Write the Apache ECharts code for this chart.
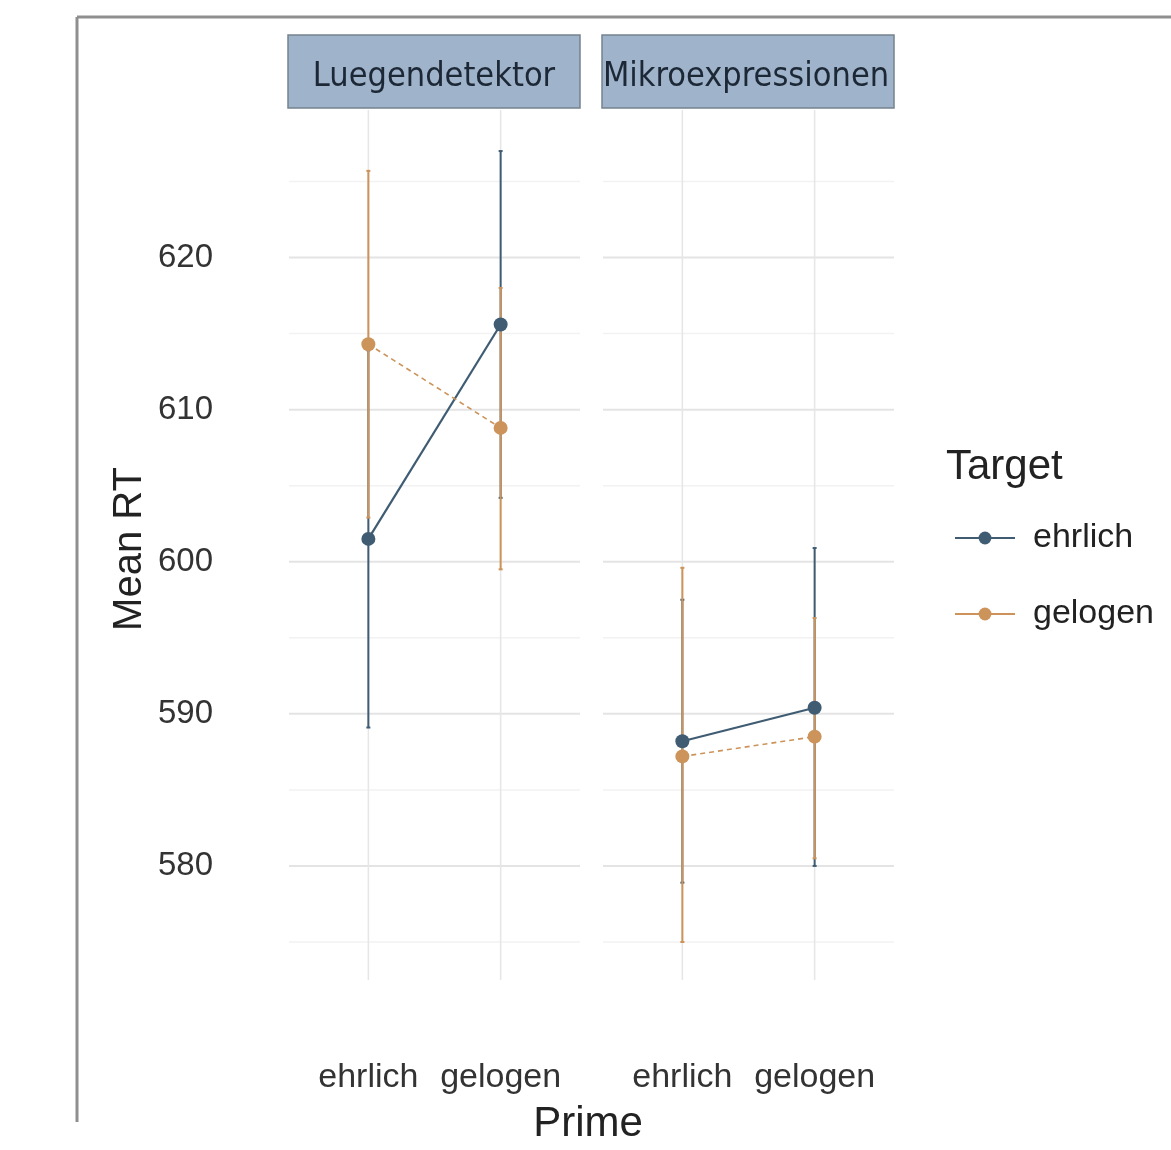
<!DOCTYPE html>
<html>
<head>
<meta charset="utf-8">
<script src="https://cdn.jsdelivr.net/npm/echarts@6/dist/echarts.min.js"></script>
<style>
html,body{margin:0;padding:0;background:#fff;}
#chart{width:1171px;height:1150px;}
</style>
</head>
<body>
<div id="chart"></div>
<script>
// ---------- data ----------
const panels = ['Luegendetektor', 'Mikroexpressionen'];
const primes = ['ehrlich', 'gelogen'];
const targets = ['ehrlich', 'gelogen'];
const yTicks = [580, 590, 600, 610, 620];
const yMinorTicks = [575, 585, 595, 605, 615, 625];

// means per prime (ehrlich, gelogen)
const meanLuegEhrlich = [601.5, 615.6];
const meanLuegGelogen = [614.3, 608.8];
const meanMikroEhrlich = [588.2, 590.4];
const meanMikroGelogen = [587.2, 588.5];

// error bar limits per prime (ehrlich, gelogen)
const loLuegEhrlich = [589.1, 604.2];
const hiLuegEhrlich = [613.9, 627.0];
const loLuegGelogen = [602.9, 599.5];
const hiLuegGelogen = [625.7, 618.0];
const loMikroEhrlich = [578.9, 580.0];
const hiMikroEhrlich = [597.5, 600.9];
const loMikroGelogen = [575.0, 580.5];
const hiMikroGelogen = [599.6, 596.3];

// ---------- style ----------
const BLUE = '#3f5c73';
const ORANGE = '#cc935a';
const FONT = 'Liberation Sans, Arial, sans-serif';

const chart = echarts.init(document.getElementById('chart'));

const grids = [
  {left: 289, top: 110, width: 291, height: 870},
  {left: 603, top: 110, width: 291, height: 870}
];

function xAxisFor(i) {
  return {
    type: 'value', gridIndex: i, min: 0.4, max: 2.6,
    axisLine: {show: false}, axisTick: {show: false}, splitLine: {show: false},
    axisLabel: {
      show: true, customValues: [1, 2], margin: 81,
      formatter: v => primes[Math.round(v) - 1],
      fontFamily: FONT, fontSize: 34, color: '#333'
    }
  };
}
function yAxisFor(i) {
  return {
    type: 'value', gridIndex: i, min: 572.5, max: 629.7,
    axisLine: {show: false}, axisTick: {show: false}, splitLine: {show: false},
    axisLabel: {
      show: i === 0, customValues: yTicks, margin: 76,
      fontFamily: FONT, fontSize: 33, color: '#333'
    }
  };
}

function hLineSeries(i, ticks, color, width) {
  return {
    type: 'custom', xAxisIndex: i, yAxisIndex: i, silent: true, z: 0,
    data: ticks.map(v => [1, v]),
    encode: {x: 0, y: 1},
    renderItem: (params, api) => {
      const cs = params.coordSys;
      const y = api.coord([1, api.value(1)])[1];
      return {type: 'line', shape: {x1: cs.x, y1: y, x2: cs.x + cs.width, y2: y},
        style: {stroke: color, lineWidth: width}};
    }
  };
}
function vLineSeries(i, color, width) {
  return {
    type: 'custom', xAxisIndex: i, yAxisIndex: i, silent: true, z: 0,
    data: primes.map((p, k) => [k + 1, 600]),
    encode: {x: 0, y: 1},
    renderItem: (params, api) => {
      const cs = params.coordSys;
      const x = api.coord([api.value(0), 600])[0];
      return {type: 'line', shape: {x1: x, y1: cs.y, x2: x, y2: cs.y + cs.height},
        style: {stroke: color, lineWidth: width}};
    }
  };
}
function errSeries(i, name, lo, hi, color) {
  return {
    type: 'custom', name: name + ' (error)', xAxisIndex: i, yAxisIndex: i, z: 2,
    itemStyle: {color: color},
    data: primes.map((p, k) => [k + 1, lo[k], hi[k]]),
    encode: {x: 0, y: [1, 2]},
    renderItem: (params, api) => {
      const x = api.value(0);
      const a = api.coord([x, api.value(1)]);
      const b = api.coord([x, api.value(2)]);
      const c = 2;
      const st = {stroke: color, lineWidth: 2};
      return {type: 'group', children: [
        {type: 'line', shape: {x1: a[0], y1: a[1], x2: b[0], y2: b[1]}, style: st},
        {type: 'line', shape: {x1: a[0] - c, y1: a[1], x2: a[0] + c, y2: a[1]}, style: st},
        {type: 'line', shape: {x1: b[0] - c, y1: b[1], x2: b[0] + c, y2: b[1]}, style: st}
      ]};
    }
  };
}
function lineSeries(i, name, means, color, dashed) {
  return {
    type: 'line', name: name, xAxisIndex: i, yAxisIndex: i, z: 3,
    data: primes.map((p, k) => [k + 1, means[k]]),
    symbol: 'circle', symbolSize: 14, showSymbol: true,
    itemStyle: {color: color},
    lineStyle: {color: color, width: dashed ? 1.6 : 2.2, type: dashed ? [5, 4] : 'solid'},
    emphasis: {disabled: true},
    animation: false
  };
}

const series = [];
[0, 1].forEach(i => {
  series.push(hLineSeries(i, yMinorTicks, '#f2f2f2', 1.5));
  series.push(hLineSeries(i, yTicks, '#e4e4e4', 2));
  series.push(vLineSeries(i, '#e6e6e6', 1.5));
});
series.push(lineSeries(0, targets[0], meanLuegEhrlich, BLUE, false));
series.push(lineSeries(0, targets[1], meanLuegGelogen, ORANGE, true));
series.push(lineSeries(1, targets[0], meanMikroEhrlich, BLUE, false));
series.push(lineSeries(1, targets[1], meanMikroGelogen, ORANGE, true));
series.push(errSeries(0, targets[0], loLuegEhrlich, hiLuegEhrlich, BLUE));
series.push(errSeries(0, targets[1], loLuegGelogen, hiLuegGelogen, ORANGE));
series.push(errSeries(1, targets[0], loMikroEhrlich, hiMikroEhrlich, BLUE));
series.push(errSeries(1, targets[1], loMikroGelogen, hiMikroGelogen, ORANGE));

function strip(i, cx) {
  const g = grids[i];
  return [
    {type: 'rect', shape: {x: g.left - 1, y: 35, width: g.width + 1, height: 73},
      style: {fill: '#9fb3ca', stroke: '#76838f', lineWidth: 1.5}, z: 10},
    {type: 'text', x: cx, y: 77, z: 11,
      style: {text: panels[i], fill: '#1d2837', font: '34px "DejaVu Sans Condensed", "DejaVu Sans", sans-serif',
        align: 'center', verticalAlign: 'middle'}}
  ];
}

const option = {
  backgroundColor: '#fff',
  animation: false,
  grid: grids,
  xAxis: [xAxisFor(0), xAxisFor(1)],
  yAxis: [yAxisFor(0), yAxisFor(1)],
  legend: {
    data: targets,
    orient: 'vertical',
    left: 949, top: 516,
    itemWidth: 60, itemHeight: 16, itemGap: 42,
    lineStyle: {type: 'solid', width: 2},
    textStyle: {fontFamily: FONT, fontSize: 34, color: '#222', padding: [0, 0, 0, 13]},
    selectedMode: false
  },
  graphic: [
    {type: 'line', shape: {x1: 77, y1: 17, x2: 77, y2: 1122}, style: {stroke: '#8f8f8f', lineWidth: 3}},
    {type: 'line', shape: {x1: 77, y1: 17, x2: 1171, y2: 17}, style: {stroke: '#8f8f8f', lineWidth: 3}},
    ...strip(0, 434),
    ...strip(1, 746),
    {type: 'text', x: 130, y: 549, rotation: Math.PI / 2,
      style: {text: 'Mean RT', fill: '#222', font: '40px ' + FONT, align: 'center', verticalAlign: 'middle'}},
    {type: 'text', x: 588, y: 1124,
      style: {text: 'Prime', fill: '#222', font: '42px ' + FONT, align: 'center', verticalAlign: 'middle'}},
    {type: 'text', x: 946, y: 467,
      style: {text: 'Target', fill: '#222', font: '42px ' + FONT, align: 'left', verticalAlign: 'middle'}}
  ],
  series: series
};
chart.setOption(option);
</script>
</body>
</html>
